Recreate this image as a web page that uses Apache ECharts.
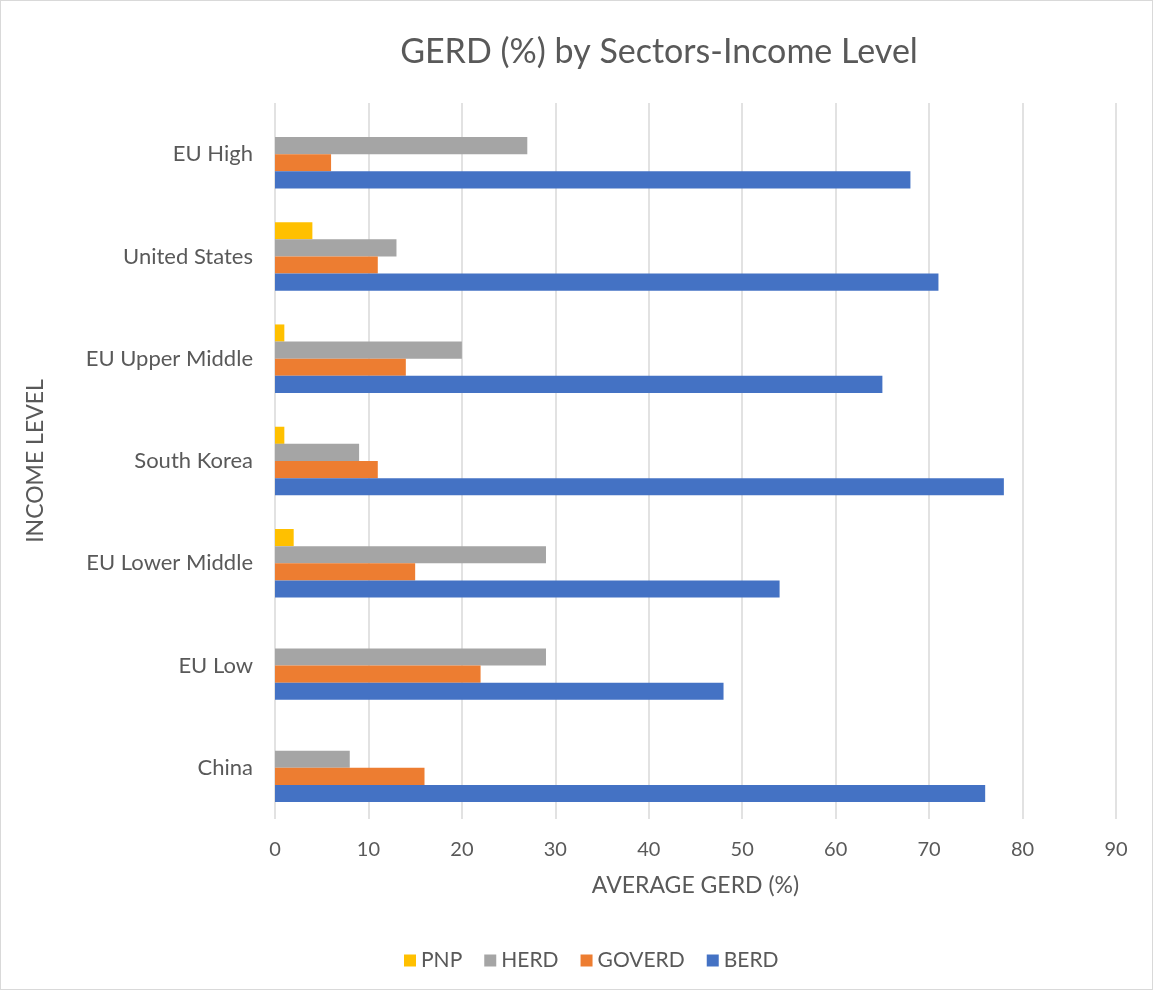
<!DOCTYPE html>
<html>
<head>
<meta charset="utf-8">
<script src="https://cdn.jsdelivr.net/npm/echarts@6/dist/echarts.min.js"></script>
<style>
  html, body { margin: 0; padding: 0; background: #fff; }
  #main { width: 1153px; height: 990px; box-sizing: border-box; border: 1px solid #d9d9d9; }
</style>
</head>
<body>
<div id="main"></div>
<script>
// 分类（从下到上）
var incomeLevels = ['China', 'EU Low', 'EU Lower Middle', 'South Korea', 'EU Upper Middle', 'United States', 'EU High'];

// 各部门数据
var berd = [76, 48, 54, 78, 65, 71, 68];
var goverd = [16, 22, 15, 11, 14, 11, 6];
var herd = [8, 29, 29, 9, 20, 13, 27];
var pnp = [0, 0, 2, 1, 1, 4, 0];

var legendOrder = ['PNP', 'HERD', 'GOVERD', 'BERD'];

var textColor = '#595959';
var font = 'Lato';

var myChart = echarts.init(document.getElementById('main'));

const makeSeries = (name, data, color) => ({
    name: name,
    type: 'bar',
    data: data,
    barGap: '0%',
    barCategoryGap: '33%',
    itemStyle: { color: color },
    emphasis: { disabled: true }
});

const option = {
    animation: false,
    textStyle: { fontFamily: font },
    title: {
        text: 'GERD (%) by Sectors-Income Level',
        left: 653,
        top: 29,
        textAlign: 'center',
        textStyle: { fontFamily: font, fontSize: 34, fontWeight: 'normal', color: textColor }
    },
    legend: {
        data: legendOrder,
        top: 944,
        left: 398,
        itemWidth: 12,
        itemHeight: 12,
        itemGap: 22,
        icon: 'rect',
        textStyle: { fontFamily: font, fontSize: 21, color: textColor }
    },
    grid: {
        left: 274,
        right: 36,
        top: 102,
        bottom: 170
    },
    xAxis: {
        type: 'value',
        min: 0,
        max: 90,
        interval: 10,
        name: 'AVERAGE GERD (%)',
        nameLocation: 'middle',
        nameGap: 55,
        nameTextStyle: { fontFamily: font, fontSize: 23, color: textColor },
        axisLine: { show: false },
        axisTick: { show: false },
        axisLabel: { fontSize: 20, color: textColor, margin: 21 },
        splitLine: { lineStyle: { color: '#d9d9d9', width: 1.5 } }
    },
    yAxis: {
        type: 'category',
        data: incomeLevels,
        name: 'INCOME LEVEL',
        nameLocation: 'middle',
        nameGap: 228,
        nameRotate: 90,
        nameTextStyle: { fontFamily: font, fontSize: 23, color: textColor },
        axisLine: { show: false },
        axisTick: { show: false },
        axisLabel: { fontSize: 22, color: textColor, margin: 22 }
    },
    // 横向柱状图：第一个系列在组内最上方
    series: [
        makeSeries('PNP', pnp, '#FFC000'),
        makeSeries('HERD', herd, '#A5A5A5'),
        makeSeries('GOVERD', goverd, '#ED7D31'),
        makeSeries('BERD', berd, '#4472C4')
    ]
};

myChart.setOption(option);
</script>
</body>
</html>
